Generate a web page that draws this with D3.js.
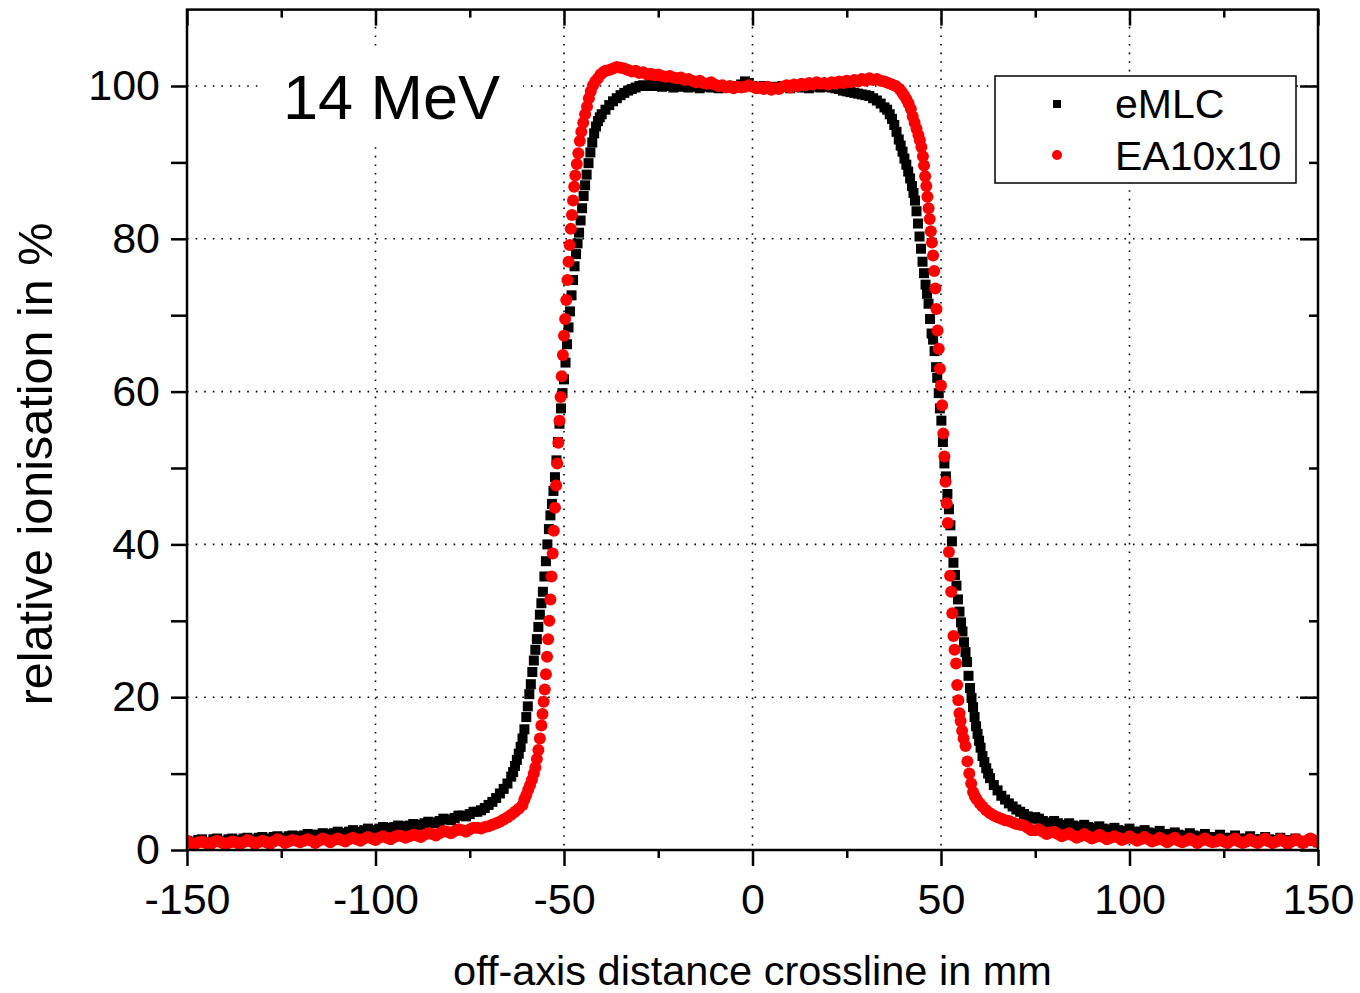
<!DOCTYPE html>
<html>
<head>
<meta charset="utf-8">
<script src="https://cdn.jsdelivr.net/npm/d3@7"></script>
<style>
  body { margin: 0; background: #fff; }
  svg { display: block; font-family: "Liberation Sans", Arial, sans-serif; }
</style>
</head>
<body>
<div id="chart"></div>
<script>
// Axis ticks
const xTicks = [-150, -100, -50, 0, 50, 100, 150];
const xMinor = [-125, -75, -25, 25, 75, 125];
const yTicks = [0, 20, 40, 60, 80, 100];
const yMinor = [10, 30, 50, 70, 90];

// eMLC profile: [off-axis mm, relative ionisation %]
const eMLC = [
  [-150,1.2],[-148,0.9],[-146,1.4],[-144,1.0],[-142,1.5],[-140,1.1],[-138,1.5],[-136,1.2],[-134,1.6],[-132,1.3],
  [-130,1.7],[-128,1.4],[-126,1.8],[-124,1.5],[-122,1.9],[-120,1.6],[-118,2.1],[-116,1.8],[-114,2.2],[-112,1.9],
  [-110,2.4],[-108,2.1],[-106,2.6],[-104,2.3],[-102,2.8],[-100,2.5],[-98,3.0],[-96,2.7],[-94,3.2],[-92,2.9],
  [-90,3.4],[-88,3.2],[-86,3.7],[-84,3.5],[-82,4.1],[-80,3.9],[-78,4.5],[-76,4.4],[-74,5.0],
  [-73,5.0],[-72,5.2],[-71,5.5],[-70,5.9],[-69,6.3],[-68,6.8],[-67,7.4],[-66,8.0],[-65,8.7],[-64,9.6],
  [-63.5,10.2],[-63,11.0],[-62.5,11.8],[-62,12.6],[-61.5,13.5],[-61,14.6],[-60.5,15.8],[-60,17.4],[-59.6,18.8],[-59.2,20.4],
  [-58.8,21.7],[-58.4,23.3],[-58,24.8],[-57.6,26.2],[-57.2,27.6],[-56.8,29.2],[-56.4,30.8],[-56,32.3],[-55.6,33.8],[-55.2,35.8],
  [-54.8,37.8],[-54.4,40.0],[-54,42.0],[-53.6,43.8],[-53.2,45.3],[-52.8,47.0],[-52.4,48.8],[-52,51.0],[-51.6,53.4],[-51.2,55.8],
  [-50.8,57.8],[-50.4,59.8],[-50,61.6],[-49.6,63.8],[-49.2,66.2],[-48.8,68.4],[-48.4,70.5],[-48,72.6],[-47.6,74.6],[-47.2,76.4],
  [-46.8,78.0],[-46.4,79.4],[-46,80.8],[-45.6,82.4],[-45.2,84.0],[-44.8,85.6],[-44.4,87.0],[-44,88.4],[-43.5,89.9],[-43,91.3],
  [-42.5,92.6],[-42,93.8],[-41.5,94.7],[-41,95.4],[-40.5,95.9],[-40,96.3],[-39,96.9],[-38,97.5],[-37,98.0],[-36,98.4],
  [-35,98.8],[-34,99.1],[-33,99.4],[-32,99.6],[-31,99.8],[-30,100.0],[-29,100.1],[-28,100.0],[-27,100.2],[-26,100.0],
  [-25,100.1],[-24,99.9],[-23,100.1],[-22,100.0],[-21,99.8],[-20,100.0],[-19,99.9],[-18,100.1],[-17,99.8],[-16,99.9],
  [-15,100.0],[-14,99.7],[-13,99.9],[-12,100.0],[-11,99.8],[-10,99.9],[-9,99.7],[-8,99.9],[-7,100.0],[-6,99.8],
  [-5,100.0],[-4,99.9],[-3,100.2],[-2,100.6],[-1,100.4],[0,100.0],[1,99.9],[2,99.7],[3,100.0],[4,99.8],
  [5,99.7],[6,99.9],[7,99.8],[8,100.0],[9,99.9],[10,99.7],[11,99.9],[12,100.0],[13,99.8],[14,99.9],
  [15,99.7],[16,100.0],[17,99.9],[18,99.8],[19,100.2],[20,99.9],[21,99.8],[22,99.7],[23,99.6],[24,99.4],
  [25,99.3],[26,99.2],[27,99.1],[28,99.0],[29,98.9],[30,98.8],[31,98.7],[32,98.4],[33,98.1],[34,97.7],
  [35,97.2],[35.7,96.9],[36.4,96.3],[37,95.7],[37.6,94.9],[38.2,94.0],[38.8,93.0],[39.3,92.2],[39.8,91.4],[40.3,90.5],
  [40.8,89.7],[41.3,88.8],[41.8,87.9],[42.3,86.9],[42.7,86.0],[43.1,85.0],[43.5,83.6],[43.9,82.0],[44.3,80.3],[44.7,78.7],
  [45.1,77.0],[45.5,75.5],[45.9,74.0],[46.3,72.8],[46.7,71.5],[47.1,69.5],[47.5,67.6],[47.9,66.8],[48.3,65.3],[48.7,63.2],
  [49,61.8],[49.4,59.8],[49.7,57.8],[50.1,56.2],[50.5,53.4],[50.9,50.6],[51.3,48.9],[51.7,46.6],[52.1,44.6],[52.5,42.5],
  [52.9,40.4],[53.3,37.6],[53.7,36.0],[54.1,34.6],[54.5,32.8],[54.9,31.2],[55.3,29.8],[55.7,28.6],[56.1,27.2],[56.5,25.9],
  [56.9,24.6],[57.3,22.8],[57.7,21.2],[58.1,19.9],[58.5,18.7],[58.9,17.4],[59.3,16.2],[59.7,15.2],[60.1,14.3],[60.5,13.4],
  [61,12.3],[61.5,11.5],[62,10.7],[62.5,10.0],[63,9.4],[64,8.5],[65,7.8],[66,7.1],[67,6.6],[68,6.1],
  [69,5.7],[70,5.3],[71,5.0],[72,4.7],[74,4.1],[76,4.1],[78,3.5],[80,3.8],[82,3.1],[84,3.5],
  [86,2.9],[88,3.3],[90,2.6],[92,3.1],[94,2.5],[96,2.9],[98,2.2],[100,2.8],[102,2.1],[104,2.6],
  [106,2.0],[108,2.5],[110,1.8],[112,2.3],[114,1.7],[116,2.2],[118,1.5],[120,2.1],[122,1.4],[124,2.0],
  [126,1.3],[128,1.9],[130,1.2],[132,1.8],[134,1.1],[136,1.7],[138,1.1],[140,1.6],[142,1.1],[144,1.5],
  [146,1.0],[148,1.4],[150,1.0]
];

// eMLC readings at odd millimetres in the tails
const eMLCTails = [
  [-149,1.1],[-147,1.3],[-145,1.0],[-143,1.4],[-141,1.2],[-139,1.4],[-137,1.3],[-135,1.5],[-133,1.4],[-131,1.6],
  [-129,1.5],[-127,1.7],[-125,1.6],[-123,1.8],[-121,1.8],[-119,1.9],[-117,2.0],[-115,2.0],[-113,2.1],[-111,2.2],
  [-109,2.2],[-107,2.4],[-105,2.4],[-103,2.6],[-101,2.6],[-99,2.8],[-97,2.9],[-95,3.0],[-93,3.1],[-91,3.2],
  [-89,3.3],[-87,3.5],[-85,3.6],[-83,3.8],[-81,4.0],[-79,4.2],[-77,4.5],[-75,4.7],
  [73,4.4],[75,4.3],[77,3.8],[79,3.6],[81,3.5],[83,3.3],[85,3.2],[87,3.1],[89,3.0],[91,2.9],
  [93,2.8],[95,2.7],[97,2.6],[99,2.5],[101,2.4],[103,2.4],[105,2.3],[107,2.2],[109,2.1],[111,2.1],
  [113,2.0],[115,1.9],[117,1.9],[119,1.8],[121,1.7],[123,1.7],[125,1.6],[127,1.6],[129,1.5],[131,1.5],
  [133,1.4],[135,1.4],[137,1.4],[139,1.3],[141,1.3],[143,1.3],[145,1.2],[147,1.2],[149,1.2]
];

// EA10x10 profile: [off-axis mm, relative ionisation %]
const ea10x10 = [
  [-150,1.2],[-148,0.7],[-146,1.1],[-144,0.6],[-142,1.2],[-140,0.8],[-138,1.1],[-136,0.7],[-134,1.3],[-132,0.8],
  [-130,1.2],[-128,0.8],[-126,1.4],[-124,0.9],[-122,1.3],[-120,1.0],[-118,1.4],[-116,0.9],[-114,1.5],[-112,1.0],
  [-110,1.5],[-108,1.1],[-106,1.6],[-104,1.2],[-102,1.7],[-100,1.3],[-98,1.8],[-96,1.4],[-94,1.9],[-92,1.6],
  [-90,2.0],[-88,1.7],[-86,2.2],[-84,1.9],[-82,2.5],[-80,2.2],[-78,2.7],[-76,2.4],[-74,2.9],[-72,2.8],
  [-71,3.0],[-70,3.1],[-69,3.3],[-68,3.5],[-67,3.7],[-66,4.0],[-65,4.3],[-64,4.6],[-63,5.0],[-62,5.4],
  [-61,5.9],[-60.5,6.6],[-60,7.2],[-59.5,7.9],[-59,8.5],[-58.5,9.2],[-58,10.0],[-57.6,10.8],[-57.2,11.9],[-56.8,13.1],
  [-56.4,14.6],[-56,16.3],[-55.7,17.8],[-55.4,19.4],[-55.1,21.0],[-54.8,23.0],[-54.5,25.3],[-54.2,27.6],[-53.9,30.0],[-53.6,32.8],
  [-53.3,35.8],[-53,38.8],[-52.7,41.8],[-52.4,44.8],[-52.1,47.7],[-51.8,50.6],[-51.5,53.3],[-51.2,56.2],[-50.9,59.3],[-50.6,62.0],
  [-50.3,64.8],[-50,67.3],[-49.7,69.5],[-49.4,72.0],[-49.1,74.6],[-48.8,77.0],[-48.5,79.2],[-48.2,81.3],[-47.9,83.1],[-47.6,85.0],
  [-47.3,86.8],[-47,88.3],[-46.6,89.8],[-46.2,91.2],[-45.8,92.8],[-45.4,94.0],[-44.9,95.2],[-44.4,96.3],[-43.9,97.3],[-43.4,98.4],
  [-42.9,99.3],[-42.3,100.1],[-41.7,100.6],[-41,101.0],[-40.3,101.5],[-39.6,101.8],[-39,102.0],[-38,102.1],[-37,102.3],[-36,102.5],
  [-35,102.4],[-34,102.3],[-33,102.1],[-32,101.9],[-31,102.0],[-30,101.7],[-29,101.8],[-28,101.5],[-27,101.6],[-26,101.4],
  [-25,101.5],[-24,101.3],[-23,101.2],[-22,101.3],[-21,101.1],[-20,101.0],[-19,101.1],[-18,100.8],[-17,100.9],[-16,100.7],
  [-15,100.5],[-14,100.7],[-13,100.4],[-12,100.3],[-11,100.5],[-10,100.2],[-9,100.0],[-8,100.1],[-7,99.8],[-6,100.0],
  [-5,99.7],[-4,99.9],[-3,99.8],[-2,99.9],[-1,100.1],[0,99.9],[1,99.7],[2,99.8],[3,99.6],[4,99.9],
  [5,99.5],[6,99.7],[7,99.6],[8,99.9],[9,100.1],[10,99.8],[11,100.2],[12,100.0],[13,100.3],[14,100.1],
  [15,100.4],[16,100.2],[17,100.5],[18,100.3],[19,100.4],[20,100.2],[21,100.5],[22,100.3],[23,100.6],[24,100.4],
  [25,100.7],[26,100.5],[27,100.8],[28,100.6],[29,100.9],[30,100.7],[31,101.0],[32,100.8],[33,100.9],[34,100.7],
  [35,100.6],[36,100.4],[37,100.2],[38,100.0],[39,99.6],[39.6,99.2],[40.2,98.8],[40.8,98.3],[41.4,97.7],[42,97.0],
  [42.5,96.0],[43,95.2],[43.5,94.4],[44,93.6],[44.4,92.9],[44.8,92.0],[45.2,90.8],[45.5,89.6],[45.8,88.2],[46.1,86.9],
  [46.4,85.5],[46.7,84.0],[47,82.6],[47.3,81.0],[47.6,79.5],[47.9,77.8],[48.2,75.8],[48.5,73.5],[48.8,70.8],[49.1,68.0],
  [49.4,65.6],[49.7,63.0],[50,60.8],[50.3,58.2],[50.6,54.5],[50.9,51.5],[51.2,48.2],[51.5,45.4],[51.8,42.8],[52.1,39.0],
  [52.4,35.9],[52.7,33.8],[53,31.0],[53.3,28.0],[53.6,26.2],[54,24.4],[54.3,21.6],[54.6,19.6],[54.9,17.9],[55.2,16.9],
  [55.6,15.6],[56,14.6],[56.5,13.6],[57,11.6],[57.5,10.0],[58,8.7],[58.5,7.6],[59,7.0],[59.5,6.6],[60.3,6.1],
  [61,5.7],[62,5.2],[63,4.8],[64,4.5],[65,4.3],[66,4.1],[67,3.9],[68,3.8],[69,3.6],[70,3.4],
  [72,3.2],[74,2.6],[76,2.7],[78,2.1],[80,2.4],[82,1.8],[84,2.2],[86,1.6],[88,2.1],[90,1.5],
  [92,2.0],[94,1.4],[96,1.8],[98,1.3],[100,1.8],[102,1.2],[104,1.7],[106,1.1],[108,1.6],[110,1.0],
  [112,1.6],[114,1.0],[116,1.5],[118,0.9],[120,1.5],[122,1.0],[124,1.4],[126,0.9],[128,1.5],[130,0.9],
  [132,1.4],[134,0.9],[136,1.5],[138,0.9],[140,1.4],[142,0.8],[144,1.4],[146,0.9],[148,1.5],[150,1.0]
];

// EA10x10 readings at odd millimetres in the tails
const eaTails = [
  [-149,0.9],[-147,1.0],[-145,0.9],[-143,1.0],[-141,1.0],[-139,0.9],[-137,1.0],[-135,1.0],[-133,1.1],[-131,1.0],
  [-129,1.0],[-127,1.1],[-125,1.2],[-123,1.1],[-121,1.2],[-119,1.2],[-117,1.2],[-115,1.2],[-113,1.3],[-111,1.3],
  [-109,1.3],[-107,1.4],[-105,1.4],[-103,1.5],[-101,1.5],[-99,1.6],[-97,1.6],[-95,1.7],[-93,1.8],[-91,1.8],
  [-89,1.9],[-87,2.0],[-85,2.1],[-83,2.2],[-81,2.4],[-79,2.5],[-77,2.6],[-75,2.7],[-73,2.9],
  [71,3.3],[73,2.9],[75,2.6],[77,2.4],[79,2.3],[81,2.1],[83,2.0],[85,1.9],[87,1.8],[89,1.8],
  [91,1.7],[93,1.7],[95,1.6],[97,1.6],[99,1.5],[101,1.5],[103,1.4],[105,1.4],[107,1.3],[109,1.3],
  [111,1.3],[113,1.2],[115,1.2],[117,1.2],[119,1.2],[121,1.2],[123,1.1],[125,1.1],[127,1.2],[129,1.1],
  [131,1.1],[133,1.1],[135,1.2],[137,1.1],[139,1.1],[141,1.1],[143,1.1],[145,1.2],[147,1.2],[149,1.2]
];

const W = 1360, H = 993;
const plot = { left: 187, right: 1318, top: 9.6, bottom: 850 };

const svg = d3.select("#chart").append("svg")
  .attr("width", W)
  .attr("height", H);

const x = d3.scaleLinear().domain([-150, 150]).range([plot.left, plot.right]);
const y = d3.scaleLinear().domain([0, 110]).range([plot.bottom, plot.top]);

// Dotted grid
const grid = svg.append("g")
  .attr("stroke", "#000")
  .attr("stroke-width", 1.6)
  .attr("stroke-dasharray", "1.6,7");

grid.selectAll("line.gx")
  .data(xTicks.filter(d => d > -150 && d < 150))
  .join("line")
  .attr("class", "gx")
  .attr("x1", d => x(d)).attr("x2", d => x(d))
  .attr("y1", plot.top).attr("y2", plot.bottom);

grid.selectAll("line.gy")
  .data(yTicks.filter(d => d > 0))
  .join("line")
  .attr("class", "gy")
  .attr("x1", plot.left).attr("x2", plot.right)
  .attr("y1", d => y(d)).attr("y2", d => y(d));

// White box behind the energy label
svg.append("rect")
  .attr("x", 260).attr("y", 50)
  .attr("width", 263).attr("height", 96)
  .attr("fill", "#fff");

svg.append("text")
  .attr("x", 283).attr("y", 119)
  .style("font-size", "63px")
  .text("14 MeV");

// Data points
svg.append("clipPath").attr("id", "clip")
  .append("rect")
  .attr("x", plot.left).attr("y", plot.top)
  .attr("width", plot.right - plot.left)
  .attr("height", plot.bottom - plot.top);

const pts = svg.append("g").attr("clip-path", "url(#clip)");
const sq = 10;

pts.append("g").selectAll("rect")
  .data(eMLC.concat(eMLCTails))
  .join("rect")
  .attr("x", d => x(d[0]) - sq / 2)
  .attr("y", d => y(d[1]) - sq / 2)
  .attr("width", sq).attr("height", sq)
  .attr("fill", "#000");

pts.append("g").selectAll("circle")
  .data(ea10x10.concat(eaTails))
  .join("circle")
  .attr("cx", d => x(d[0]))
  .attr("cy", d => y(d[1]))
  .attr("r", 6)
  .attr("fill", "#ff0000");

// Axes
const fmt = d => String(d);
const axisStyle = g => {
  g.select(".domain").remove();
  g.selectAll("line").attr("stroke", "#000").attr("stroke-width", 2.5);
  g.selectAll("text").style("font-size", "43px").attr("fill", "#000")
    .style("font-family", "'Liberation Sans', Arial, sans-serif");
};

svg.append("g")
  .attr("transform", `translate(0,${plot.bottom})`)
  .call(d3.axisBottom(x).tickValues(xTicks).tickSize(16).tickPadding(17).tickFormat(fmt))
  .call(axisStyle)
  .call(g => g.selectAll("text").attr("dy", "0.71em"));

svg.append("g")
  .attr("transform", `translate(0,${plot.bottom})`)
  .call(d3.axisBottom(x).tickValues(xMinor).tickSize(8).tickFormat(""))
  .call(axisStyle);

svg.append("g")
  .attr("transform", `translate(0,${plot.top})`)
  .call(d3.axisBottom(x).tickValues(xTicks).tickSize(16).tickFormat(""))
  .call(axisStyle);

svg.append("g")
  .attr("transform", `translate(0,${plot.top})`)
  .call(d3.axisBottom(x).tickValues(xMinor).tickSize(8).tickFormat(""))
  .call(axisStyle);

svg.append("g")
  .attr("transform", `translate(${plot.left},0)`)
  .call(d3.axisLeft(y).tickValues(yTicks).tickSize(16).tickPadding(11).tickFormat(fmt))
  .call(axisStyle);

svg.append("g")
  .attr("transform", `translate(${plot.left},0)`)
  .call(d3.axisLeft(y).tickValues(yMinor).tickSize(16).tickFormat(""))
  .call(axisStyle);

svg.append("g")
  .attr("transform", `translate(${plot.right},0)`)
  .call(d3.axisLeft(y).tickValues(yTicks).tickSize(18).tickFormat(""))
  .call(axisStyle);

svg.append("g")
  .attr("transform", `translate(${plot.right},0)`)
  .call(d3.axisLeft(y).tickValues(yMinor).tickSize(9).tickFormat(""))
  .call(axisStyle);

// Frame
svg.append("rect")
  .attr("x", plot.left).attr("y", plot.top)
  .attr("width", plot.right - plot.left)
  .attr("height", plot.bottom - plot.top)
  .attr("fill", "none")
  .attr("stroke", "#000")
  .attr("stroke-width", 2.5);

// Axis titles
svg.append("text")
  .attr("x", (plot.left + plot.right) / 2)
  .attr("y", 985)
  .attr("text-anchor", "middle")
  .style("font-size", "41.5px")
  .text("off-axis distance crossline in mm");

svg.append("text")
  .attr("transform", "rotate(-90)")
  .attr("x", -464)
  .attr("y", 52)
  .attr("text-anchor", "middle")
  .style("font-size", "48.5px")
  .text("relative ionisation in %");

// Legend
const legend = svg.append("g");
legend.append("rect")
  .attr("x", 995).attr("y", 76)
  .attr("width", 301).attr("height", 107)
  .attr("fill", "#fff")
  .attr("stroke", "#000")
  .attr("stroke-width", 1.5);

legend.append("rect")
  .attr("x", 1057 - 4).attr("y", 104 - 4)
  .attr("width", 8).attr("height", 8)
  .attr("fill", "#000");

legend.append("circle")
  .attr("cx", 1057).attr("cy", 155)
  .attr("r", 5)
  .attr("fill", "#ff0000");

legend.append("text")
  .attr("x", 1115).attr("y", 118)
  .style("font-size", "41px")
  .text("eMLC");

legend.append("text")
  .attr("x", 1115).attr("y", 170)
  .style("font-size", "41px")
  .text("EA10x10");
</script>
</body>
</html>
